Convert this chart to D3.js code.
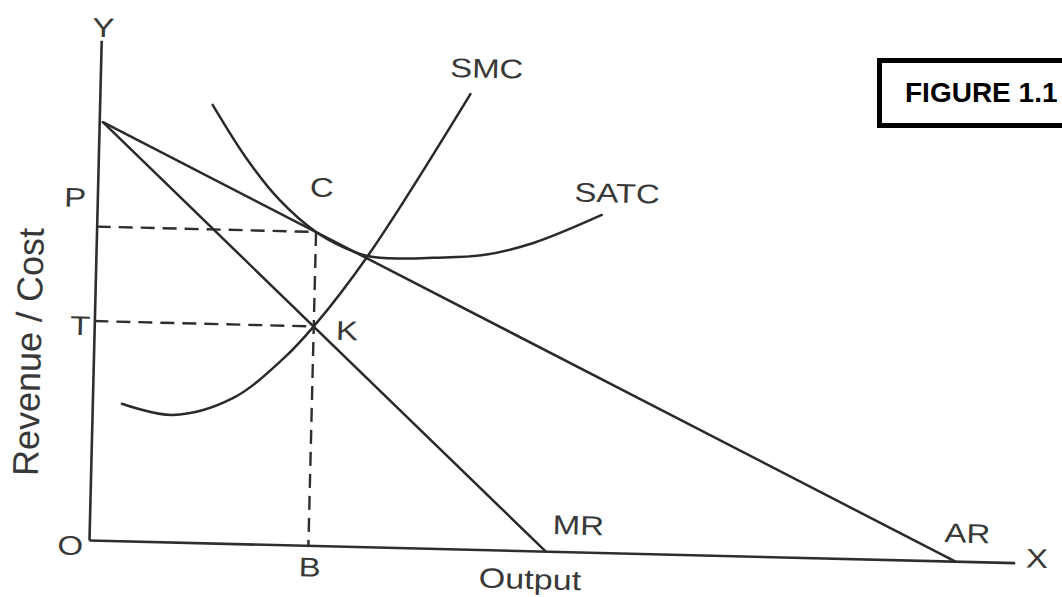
<!DOCTYPE html>
<html>
<head>
<meta charset="utf-8">
<script src="https://cdn.jsdelivr.net/npm/d3@7"></script>
<style>
  body { margin: 0; background: #fff; }
  svg { display: block; }
  .lbl { font-family: "Liberation Sans", Arial, sans-serif; fill: #383838; }
</style>
</head>
<body>
<div id="chart"></div>
<script>
// values, arbitrary units: output 0-100, revenue/cost 0-100
const arOutput = [0.4, 93.5];
const arValue = [83.6, 0];
const mrOutput = [0.4, 49.3];
const mrValue = [83.6, 0];

const smcOutput = [3.2, 8.7, 15.1, 20.5, 23.7, 29.4, 40.0];
const smcValue = [27.4, 25.4, 29.0, 37.2, 43.8, 58.3, 91.0];

const satcOutput = [12.2, 16.1, 19.7, 23.7, 26.9, 29.4, 33.0, 36.4, 41.8, 47.1, 54.5];
const satcValue = [87.6, 76.8, 68.9, 62.7, 59.6, 58.1, 57.8, 58.1, 58.9, 61.5, 67.5];

const outputB = 23.7;
const priceP = 62.7;
const costT = 43.8;

const labelText = ['Y', 'P', 'T', 'O', 'C', 'K', 'B', 'SMC', 'SATC', 'MR', 'Output', 'AR', 'X'];
const labelX = [0.2, -2.4, -1.5, -2.0, 24.2, 27.3, 23.9, 41.7, 56.1, 52.8, 47.7, 94.8, 102.4];
const labelY = [102.6, 68.5, 42.9, -1.1, 71.7, 43.2, -4.3, 96.3, 72.0, 5.4, -5.6, 5.7, 1.0];

const yTitle = 'Revenue / Cost';
const figTitle = 'FIGURE 1.1';

class Diagram {
  constructor(opts) {
    this.element = opts.element;
    this.draw();
  }

  draw() {
    this.width = 1062;
    this.height = 597;
    this.origin = {x: 89, y: 540};
    this.tilt = 1.4; // the scan is slightly turned

    const svg = d3.select(this.element).append('svg')
      .attr('width', this.width)
      .attr('height', this.height);
    this.svg = svg;

    this.plot = svg.append('g')
      .attr('transform', `translate(${this.origin.x},${this.origin.y}) rotate(${this.tilt})`);

    this.createScales();
    this.addAxes();
    this.addGuides();
    this.addCurves();
    this.addLabels();
    this.addBox();
  }

  createScales() {
    this.x = d3.scaleLinear().domain([0, 100]).range([0, 926]);
    this.y = d3.scaleLinear().domain([0, 100]).range([0, -500]);
  }

  addAxes() {
    const xAxis = d3.axisBottom(this.x).tickValues([]).tickSizeOuter(0);
    const yAxis = d3.axisLeft(this.y).tickValues([]).tickSizeOuter(0);

    [xAxis, yAxis].forEach(ax => {
      const g = this.plot.append('g').call(ax);
      g.select('.domain')
        .attr('stroke', '#2e2e2e')
        .attr('stroke-width', 2.6);
    });
  }

  addGuides() {
    const dashed = [
      [[0, priceP], [outputB, priceP]],
      [[0, costT], [outputB, costT]],
      [[outputB, priceP], [outputB, 0]]
    ];
    const line = d3.line().x(d => this.x(d[0])).y(d => this.y(d[1]));

    this.plot.selectAll('.guide')
      .data(dashed)
      .join('path')
      .attr('class', 'guide')
      .attr('d', line)
      .attr('fill', 'none')
      .attr('stroke', '#2e2e2e')
      .attr('stroke-width', 2.4)
      .attr('stroke-dasharray', '14,8');
  }

  addCurves() {
    const zip = (xs, ys) => xs.map((v, i) => [v, ys[i]]);
    const straight = d3.line().x(d => this.x(d[0])).y(d => this.y(d[1]));
    const smooth = d3.line()
      .x(d => this.x(d[0]))
      .y(d => this.y(d[1]))
      .curve(d3.curveCatmullRom.alpha(0.5));

    const curves = [
      {pts: zip(arOutput, arValue), gen: straight},
      {pts: zip(mrOutput, mrValue), gen: straight},
      {pts: zip(smcOutput, smcValue), gen: smooth},
      {pts: zip(satcOutput, satcValue), gen: smooth}
    ];

    this.plot.selectAll('.curve')
      .data(curves)
      .join('path')
      .attr('class', 'curve')
      .attr('d', d => d.gen(d.pts))
      .attr('fill', 'none')
      .attr('stroke', '#2a2a2a')
      .attr('stroke-width', 2.5)
      .attr('stroke-linecap', 'round');
  }

  addLabels() {
    this.plot.selectAll('.lbl-pt')
      .data(labelText)
      .join('text')
      .attr('class', 'lbl lbl-pt')
      .attr('transform', (d, i) => `translate(${this.x(labelX[i])},${this.y(labelY[i])}) scale(1.22,1)`)
      .attr('text-anchor', 'middle')
      .attr('dy', '0.36em')
      .style('font-size', d => d === 'Output' ? '28px' : '27px')
      .text(d => d);

    this.plot.append('text')
      .attr('class', 'lbl')
      .attr('transform', `translate(${this.x(-7.1)},${this.y(37.3)}) rotate(-90)`)
      .attr('text-anchor', 'middle')
      .attr('dy', '0.36em')
      .style('font-size', '36px')
      .text(yTitle);
  }

  addBox() {
    this.svg.append('rect')
      .attr('x', 879.5)
      .attr('y', 60.5)
      .attr('width', 200)
      .attr('height', 65)
      .attr('fill', 'none')
      .attr('stroke', '#000')
      .attr('stroke-width', 5);

    this.svg.append('text')
      .attr('x', 905)
      .attr('y', 102)
      .style('font-family', '"Liberation Sans", Arial, sans-serif')
      .style('font-weight', 'bold')
      .style('font-size', '28px')
      .attr('fill', '#000')
      .text(figTitle);
  }
}

new Diagram({element: document.getElementById('chart')});
</script>
</body>
</html>
